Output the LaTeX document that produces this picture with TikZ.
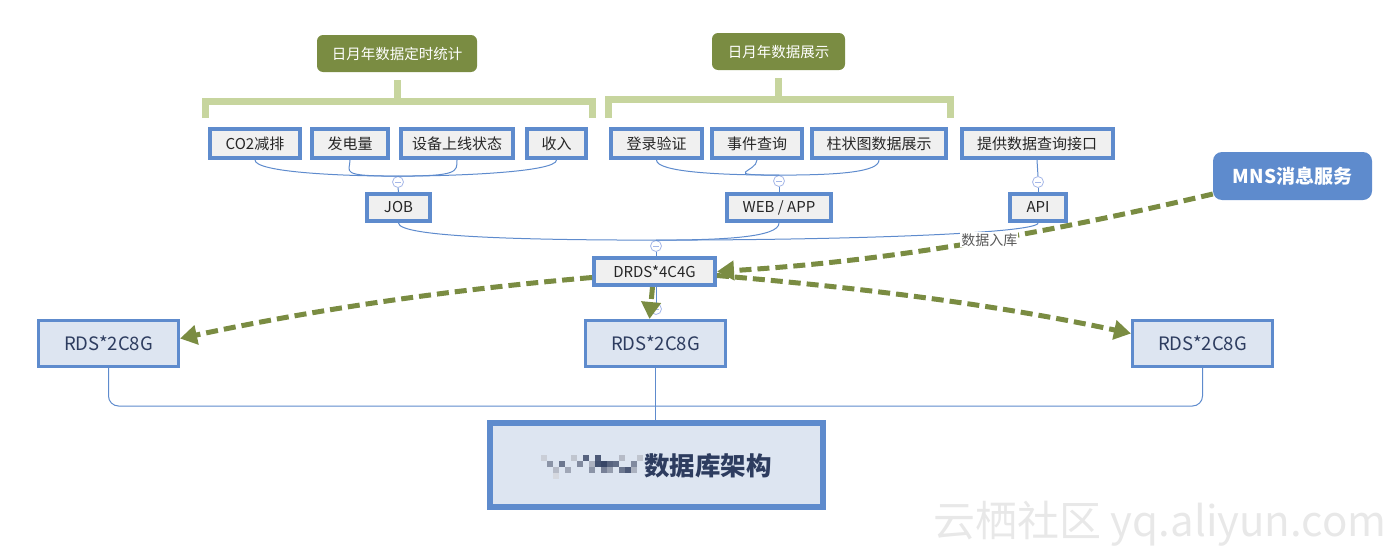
\documentclass[tikz,border=0pt]{standalone}
\usepackage{fontspec}
\setmainfont{Noto Sans CJK SC}
\usetikzlibrary{arrows.meta,calc,positioning}
\definecolor{olive1}{RGB}{122,140,66}
\definecolor{brk}{RGB}{199,213,158}
\definecolor{bdr}{RGB}{94,139,205}
\definecolor{gbox}{RGB}{240,240,240}
\definecolor{rbox}{RGB}{221,229,241}
\definecolor{foldc}{RGB}{165,183,232}
\definecolor{navy}{RGB}{45,60,95}

\tikzset{
  topic/.style={rounded corners=6pt,fill=olive1,text=white,
    font=\fontsize{14.5}{17}\selectfont,minimum height=37pt,inner sep=0pt},
  leaf/.style={draw=bdr,line width=4pt,fill=gbox,minimum height=29pt,inner sep=0pt,
    font=\fontsize{15}{18}\selectfont,text=black!85},
  rds/.style={draw=bdr,line width=3pt,fill=rbox,minimum width=140pt,minimum height=46pt,
    inner sep=0pt,font=\fontsize{18.5}{21}\selectfont,text=navy},
  link/.style={draw=bdr,line width=1pt},
  fold/.style={circle,draw=foldc,fill=white,line width=0.8pt,minimum size=11pt,inner sep=0pt,
    path picture={\draw[foldc,line width=0.8pt]
      ([xshift=-3pt]path picture bounding box.center) -- ([xshift=3pt]path picture bounding box.center);}},
  flow/.style={draw=olive1,line width=5pt,dash pattern=on 12pt off 6pt,
    -{Triangle[length=17pt,width=19pt]}},
  bracket/.style={draw=brk,line width=7pt,line join=miter}
}

\begin{document}
\begin{tikzpicture}[x=1pt,y=-1pt]
  \useasboundingbox (0,0) rectangle (1400,554);

  % watermark
  \node[text=black!9,font=\fontsize{42}{44}\selectfont] (wm) at (1160,524) {云栖社区 yq.aliyun.com};

  % topics and brackets
  \node[topic,minimum width=160pt] (st) at (397,53.5) {日月年数据定时统计};
  \node[topic,minimum width=133pt] (zs) at (778.5,51.5) {日月年数据展示};
  \draw[bracket] (205,118) -- (205,101) -- (592,101) -- (592,118);
  \draw[bracket] ($(st.south)+(0,8)$) -- (st.south |- 0,101);
  \draw[bracket] (608,118) -- (608,99) -- (950,99) -- (950,118);
  \draw[bracket] ($(zs.south)+(0,8)$) -- (zs.south |- 0,99);

  % first row
  \foreach \nm/\x/\w/\txt in {
    co/255/90/CO2减排,
    fd/350/76/发电量,
    sb/457/112/设备上线状态,
    sr/556.5/59/收入,
    dl/656.5/91/登录验证,
    sj/757/90/事件查询,
    zz/879/134/柱状图数据展示,
    tg/1037/151/提供数据查询接口}{
    \node[leaf,minimum width=\w pt] (\nm) at (\x,143.5) {\txt};
  }

  % second row
  \node[fold] (jobf) at (398,182) {};
  \node[fold] (webf) at (779,181) {};
  \node[fold] (apif) at (1038,182) {};
  \node[leaf,minimum width=63pt,minimum height=27pt] (job) at (398.5,207.5) {JOB};
  \node[leaf,minimum width=104pt,minimum height=27pt] (web) at (779,207.5) {WEB / APP};
  \node[leaf,minimum width=56pt,minimum height=27pt] (api) at (1038,207.5) {API};

  \foreach \nm in {co,fd} \draw[link] (\nm.south) .. controls +(0,12) and +(-60,0) .. (jobf.north);
  \foreach \nm in {sb,sr} \draw[link] (\nm.south) .. controls +(0,12) and +(60,0) .. (jobf.north);
  \foreach \nm in {dl,sj} \draw[link] (\nm.south) .. controls +(0,12) and +(-60,0) .. (webf.north);
  \draw[link] (zz.south) .. controls +(0,12) and +(60,0) .. (webf.north);
  \draw[link] (tg.south) -- (apif.north);
  \draw[link] (jobf.south) -- (job.north);
  \draw[link] (webf.south) -- (web.north);
  \draw[link] (apif.south) -- (api.north);

  % drds
  \node[fold] (drdsf) at (656,246) {};
  \node[leaf,minimum width=121pt,minimum height=27pt] (drds) at (654.5,271.5) {DRDS*4C4G};
  \node[fold] (drdsb) at (656,309) {};
  \draw[link] (job.south) .. controls +(0,14) and +(-130,0) .. (drdsf.north);
  \draw[link] (web.south) .. controls +(0,14) and +(70,0) .. (drdsf.north);
  \draw[link] (api.south) .. controls +(0,10) and +(200,0) .. (drdsf.north);
  \draw[link] (drdsf.south) -- (drdsf.south |- drds.north);
  \draw[link] (drdsb.north |- drds.south) -- (drdsb.north);

  % rds and base
  \node[rds] (rdsl) at (108.5,343.5) {RDS*2C8G};
  \node[rds] (rdsm) at (655.5,343.5) {RDS*2C8G};
  \node[rds] (rdsr) at (1202.5,343.5) {RDS*2C8G};
  \node[draw=bdr,line width=6pt,fill=rbox,minimum width=333pt,minimum height=84pt] (base) at (656.5,465) {};
  \coordinate (hub) at (656,406);
  \draw[link,rounded corners=10pt] (rdsl.south) |- (hub) -| (rdsr.south);
  \draw[link] (rdsm.south) -- (rdsm.south |- base.north);

  % blurred name
  \foreach \x/\y/\c in {541/455/25,547/461/55,553/467/35,559/461/70,565/467/45,571/455/30,
    577/461/60,583/455/80,589/461/40,595/455/85,601/461/95,607/467/50,613/461/75,
    619/455/35,625/467/85,631/461/60,637/455/30,589/467/55,601/467/65,553/473/20,
    595/461/90,607/461/80,619/467/70,631/467/40}
    \fill[navy!\c] (\x,\y) rectangle ++(6,6);
  \node[font=\bfseries\fontsize{25.5}{28}\selectfont,text=navy] (dbt) at (708,466) {数据库架构};

  % mns and flows
  \node[rounded corners=9pt,fill=bdr,text=white,font=\bfseries\fontsize{19}{22}\selectfont,
    minimum width=159pt,minimum height=48pt,inner sep=0pt] (mns) at (1292.5,176) {MNS消息服务};
  \draw[flow] ($(mns.west)+(0,18)$) .. controls +(-170,40) and +(170,-10) ..
    node[pos=0.45,fill=white,inner sep=1pt,text=black!65,font=\fontsize{14}{16}\selectfont] (lbl) {数据入库}
    (drds.east);
  \draw[flow] ($(drds.west)+(0,6)$) .. controls +(-140,12) and +(140,-30) .. ($(rdsl.east)+(0,-5)$);
  \draw[flow] ($(drds.south)+(-2,0)$) -- ($(rdsm.north)+(-6,0)$);
  \draw[flow] ($(drds.east)+(0,4)$) .. controls +(140,12) and +(-140,-30) .. ($(rdsr.west)+(0,-10)$);
\end{tikzpicture}
\end{document}
